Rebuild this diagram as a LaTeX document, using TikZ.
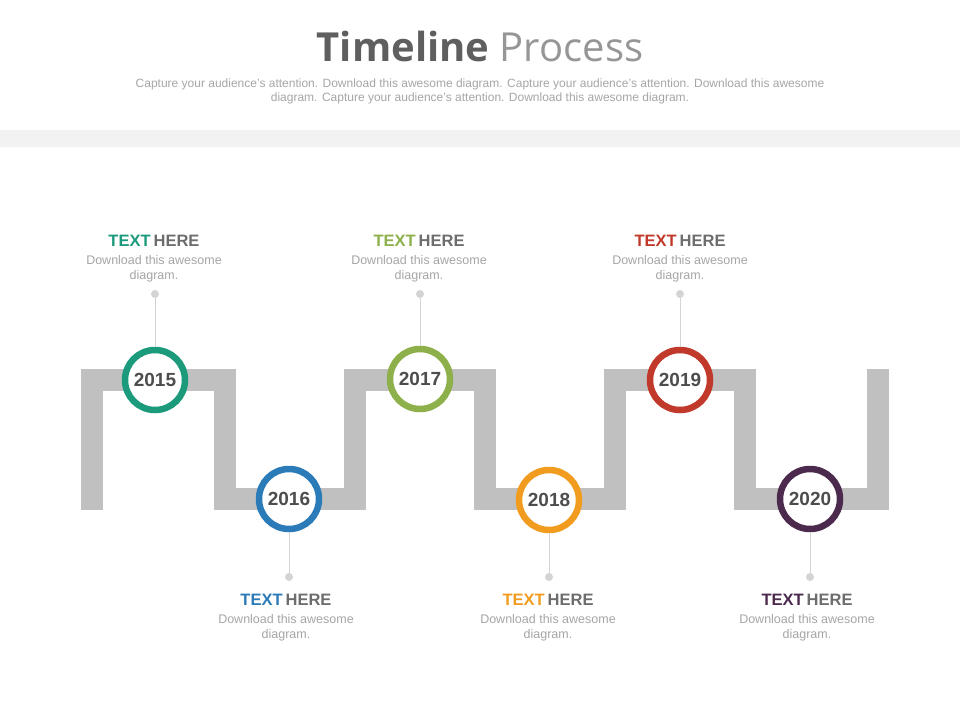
\documentclass[tikz,border=0pt]{standalone}
\usepackage{fontspec}
\setmainfont{Liberation Sans}
\newfontfamily\titlefont{Open Sans}
\begin{document}
\begin{tikzpicture}[x=1pt, y=-1pt,
  year/.style={circle, fill=white, line width=6.5pt, minimum size=60pt, inner sep=0pt,
    text=YearGray, font=\fontsize{19}{19}\selectfont\bfseries},
  dot/.style={circle, fill=DotGray, minimum size=8pt, inner sep=0pt},
  head/.style={text=HereGray, font=\fontsize{16.5}{16.5}\selectfont\bfseries},
  desc/.style={text=DescGray, align=center, font=\fontsize{12.5}{15.5}\selectfont}]
\definecolor{MyTeal}{RGB}{27, 154, 124}
\definecolor{MyBlue}{RGB}{43, 123, 185}
\definecolor{MyGreen}{RGB}{141, 176, 74}
\definecolor{MyOrange}{RGB}{242, 156, 31}
\definecolor{MyRed}{RGB}{192, 57, 43}
\definecolor{MyPurple}{RGB}{75, 42, 78}
\definecolor{BarGray}{RGB}{192, 192, 192}
\definecolor{BandGray}{RGB}{242, 242, 242}
\definecolor{DotGray}{RGB}{212, 212, 212}
\definecolor{YearGray}{RGB}{77, 77, 77}
\definecolor{HereGray}{RGB}{109, 109, 109}
\definecolor{DescGray}{RGB}{166, 166, 166}
\definecolor{TitleGray}{RGB}{150, 150, 150}
\useasboundingbox (0,0) rectangle (960,720);
\fill[white] (0,0) rectangle (960,720);
\fill[BandGray] (0,130) rectangle (960,147);
% title
\node (title) at (480,46) {\titlefont\fontsize{40}{40}\selectfont
  \textcolor{YearGray!90!white}{\bfseries Timeline} \textcolor{TitleGray}{Process}};
\node[desc, font=\fontsize{12}{14}\selectfont] (sub) at (480,91)
  {Capture your audience's attention. Download this awesome diagram. Capture your audience's attention. Download this awesome\\
   diagram. Capture your audience's attention. Download this awesome diagram.};
% square wave
\draw[BarGray, line width=22pt] (92,510) -- (92,380) -- (224.5,380) -- (224.5,499)
  -- (354.5,499) -- (354.5,380) -- (484.5,380) -- (484.5,499) -- (614.5,499)
  -- (614.5,380) -- (744.5,380) -- (744.5,499) -- (877.5,499) -- (877.5,369);
% years
\foreach \yr/\x/\y/\c/\lx/\dy/\ty in {2015/155/380/MyTeal/154/294/241,
  2016/289/499/MyBlue/286/577/600, 2017/420/379/MyGreen/419/294/241,
  2018/549/500/MyOrange/548/577/600, 2019/680/380/MyRed/680/294/241,
  2020/810/499/MyPurple/807/577/600}{
\node[dot] (d\yr) at (\x,\dy) {};
\node[year, draw=\c] (c\yr) at (\x,\y) {\yr};
\draw[DotGray, line width=1pt] (d\yr) -- (c\yr);
\node[head] (h\yr) at (\lx,\ty) {\textcolor{\c}{TEXT}\kern3pt HERE};
\node[desc] (t\yr) at (\lx,\ty+28) {Download this awesome\\diagram.};
}
\end{tikzpicture}
\end{document}
